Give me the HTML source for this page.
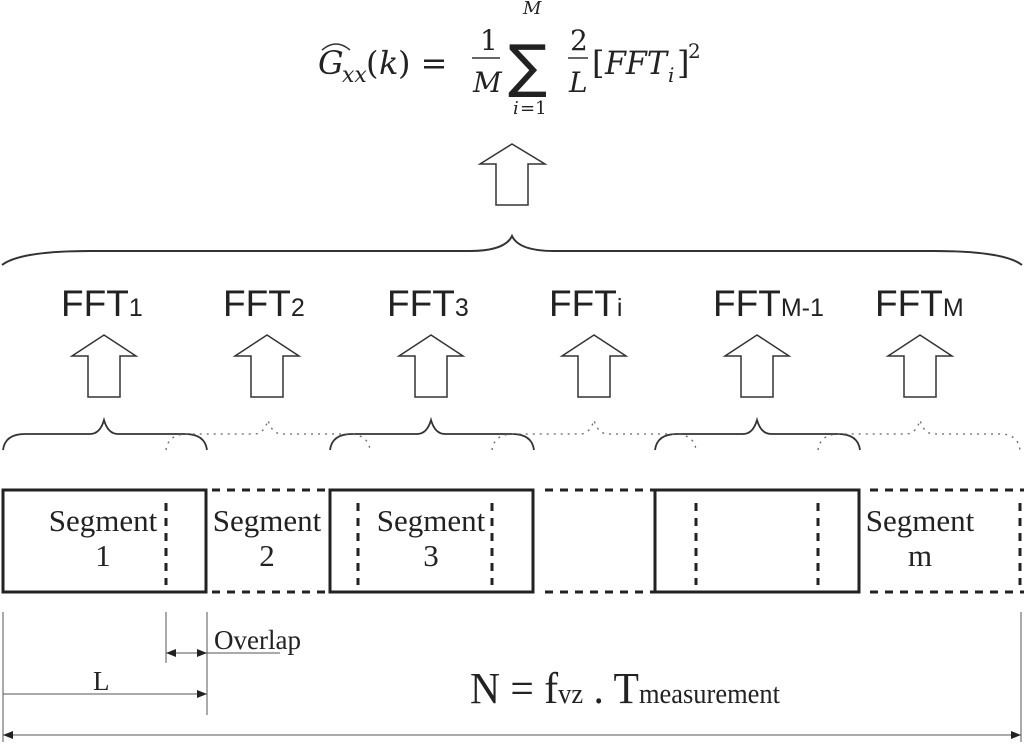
<!DOCTYPE html>
<html><head><style>
html,body{margin:0;padding:0;background:#fff;}
svg{display:block;}
.f{font-family:"Liberation Sans",Arial,sans-serif;fill:#222;}
.s{font-family:"Liberation Serif","Times New Roman",serif;fill:#222;}
</style></head><body>
<svg width="1024" height="745" viewBox="0 0 1024 745" xmlns="http://www.w3.org/2000/svg">
<defs>
<marker id="ah" markerWidth="10" markerHeight="8" refX="10" refY="4" orient="auto" markerUnits="userSpaceOnUse"><path d="M0,0 L10,4 L0,8 z" fill="#222"/></marker>
<marker id="at" markerWidth="10" markerHeight="8" refX="0" refY="4" orient="auto" markerUnits="userSpaceOnUse"><path d="M10,0 L0,4 L10,8 z" fill="#222"/></marker>
</defs>
<!-- formula -->
<g class="s" font-style="italic">
<text x="318" y="74" font-size="32" font-family="DejaVu Serif,serif" font-style="italic">G</text>
<text x="342" y="82" font-size="22" font-family="DejaVu Serif,serif">xx</text>
<text x="366" y="74" font-size="32" font-family="DejaVu Serif,serif" font-style="normal">(</text>
<text x="379" y="74" font-size="32" font-family="DejaVu Serif,serif">k</text>
<text x="398" y="74" font-size="32" font-family="DejaVu Serif,serif" font-style="normal">) =</text>
<text x="480" y="50" font-size="28" font-family="DejaVu Serif,serif" font-style="normal">1</text>
<text x="473" y="92" font-size="28" font-family="DejaVu Serif,serif">M</text>
<text x="523" y="14" font-size="18" font-family="DejaVu Serif,serif">M</text>
<text x="508" y="86" font-size="58" font-family="DejaVu Sans,serif" font-style="normal">∑</text>
<text x="513" y="114" font-size="18" font-family="DejaVu Serif,serif">i</text>
<text x="520" y="114" font-size="18" font-family="DejaVu Serif,serif" font-style="normal">=1</text>
<text x="570" y="50" font-size="28" font-family="DejaVu Serif,serif" font-style="normal">2</text>
<text x="569" y="92" font-size="28" font-family="DejaVu Serif,serif">L</text>
<text x="592" y="74" font-size="32" font-family="DejaVu Serif,serif" font-style="normal">[</text>
<text x="605" y="74" font-size="32" font-family="DejaVu Serif,serif" textLength="62" lengthAdjust="spacingAndGlyphs">FFT</text>
<text x="668" y="82" font-size="20" font-family="DejaVu Serif,serif">i</text>
<text x="677" y="74" font-size="32" font-family="DejaVu Serif,serif" font-style="normal">]</text>
<text x="688" y="58" font-size="20" font-family="DejaVu Serif,serif" font-style="normal">2</text>
</g>
<path d="M322,50 Q336,38 350,50" fill="none" stroke="#333" stroke-width="1.5"/>
<line x1="472" y1="58" x2="500" y2="58" stroke="#333" stroke-width="1.5"/>
<line x1="568" y1="58" x2="588" y2="58" stroke="#333" stroke-width="1.5"/>
<!-- top arrow -->
<path d="M512,144 L545,164 L528,164 L528,205 L496,205 L496,164 L480,164 Z" fill="#fff" stroke="#333" stroke-width="1.5"/>
<!-- big brace -->
<path d="M2,265 Q20,251 90,251 L470,251 Q505,251 512,236 Q519,251 554,251 L934,251 Q1004,251 1022,265" fill="none" stroke="#333" stroke-width="2"/>
<!-- FFT labels -->
<g class="f" font-size="37">
<text x="61" y="316">FFT<tspan font-size="25">1</tspan></text>
<text x="223" y="316">FFT<tspan font-size="25">2</tspan></text>
<text x="387" y="316">FFT<tspan font-size="25">3</tspan></text>
<text x="549" y="316">FFT<tspan font-size="25">i</tspan></text>
<text x="713" y="316">FFT<tspan font-size="25">M-1</tspan></text>
<text x="875" y="316">FFT<tspan font-size="25">M</tspan></text>
</g>
<!-- small arrows -->
<g fill="#fff" stroke="#333" stroke-width="1.5">
<path d="M104,335 L136,356 L120,356 L120,397 L88,397 L88,356 L72,356 Z"/>
<path d="M267,335 L299,356 L283,356 L283,397 L251,397 L251,356 L235,356 Z"/>
<path d="M431,335 L463,356 L447,356 L447,397 L415,397 L415,356 L399,356 Z"/>
<path d="M594,335 L626,356 L610,356 L610,397 L578,397 L578,356 L562,356 Z"/>
<path d="M757,335 L789,356 L773,356 L773,397 L741,397 L741,356 L725,356 Z"/>
<path d="M920,335 L952,356 L936,356 L936,397 L904,397 L904,356 L888,356 Z"/>
</g>
<!-- small braces -->
<g fill="none" stroke="#333" stroke-width="1.8">
<path d="M3,450 Q5,434 25,434 L90,434 Q100,434 104,420 Q108,434 118,434 L185,434 Q205,434 207,450"/>
<path d="M330,450 Q332,434 352,434 L417,434 Q427,434 431,420 Q435,434 445,434 L512,434 Q532,434 534,450"/>
<path d="M655,450 Q657,434 677,434 L743,434 Q753,434 757,420 Q761,434 771,434 L838,434 Q858,434 860,450"/>
</g>
<g fill="none" stroke="#666" stroke-width="1.3" stroke-dasharray="2,5">
<path d="M166,450 Q168,434 188,434 L254,434 Q264,434 268,420 Q272,434 282,434 L348,434 Q368,434 370,450"/>
<path d="M492,450 Q494,434 514,434 L580,434 Q590,434 594,420 Q598,434 608,434 L674,434 Q694,434 696,450"/>
<path d="M818,450 Q820,434 840,434 L906,434 Q916,434 920,420 Q924,434 934,434 L1000,434 Q1018,434 1020,450"/>
</g>
<!-- segment boxes -->
<g fill="none" stroke="#222" stroke-width="3">
<rect x="3" y="490" width="203" height="102"/>
<rect x="330" y="490" width="203" height="102"/>
<rect x="655" y="490" width="204" height="102"/>
</g>
<g stroke="#222" stroke-width="3" stroke-dasharray="8,7">
<line x1="212" y1="490" x2="328" y2="490"/><line x1="212" y1="592" x2="328" y2="592"/>
<line x1="545" y1="490" x2="655" y2="490"/><line x1="545" y1="592" x2="655" y2="592"/>
<line x1="870" y1="490" x2="1024" y2="490"/><line x1="870" y1="592" x2="1024" y2="592"/>
<line x1="166" y1="503" x2="166" y2="585"/>
<line x1="358" y1="503" x2="358" y2="585"/>
<line x1="492" y1="503" x2="492" y2="585"/>
<line x1="696" y1="503" x2="696" y2="585"/>
<line x1="818" y1="503" x2="818" y2="585"/>
<line x1="1020" y1="503" x2="1020" y2="585"/>
</g>
<g class="s" font-size="31" text-anchor="middle">
<text x="103" y="531">Segment</text><text x="103" y="566">1</text>
<text x="267" y="531">Segment</text><text x="267" y="566">2</text>
<text x="431" y="531">Segment</text><text x="431" y="566">3</text>
<text x="920" y="531">Segment</text><text x="920" y="566">m</text>
</g>
<!-- dimensions -->
<g stroke="#555" stroke-width="1">
<line x1="3" y1="612" x2="3" y2="742"/>
<line x1="166" y1="612" x2="166" y2="663"/>
<line x1="207" y1="612" x2="207" y2="715"/>
<line x1="1021" y1="612" x2="1021" y2="742"/>
<line x1="207" y1="653" x2="280" y2="653"/>
<line x1="166" y1="653" x2="207" y2="653" marker-start="url(#at)" marker-end="url(#ah)"/>
<line x1="3" y1="694" x2="207" y2="694" marker-end="url(#ah)"/>
<line x1="3" y1="735" x2="1021" y2="735" marker-start="url(#at)" marker-end="url(#ah)"/>
</g>
<text class="s" x="214" y="649" font-size="27">Overlap</text>
<text class="s" x="93" y="690" font-size="27">L</text>
<text class="s" x="470" y="703" font-size="44" textLength="310" lengthAdjust="spacingAndGlyphs">N = f<tspan font-size="28">vz</tspan> . T<tspan font-size="28">measurement</tspan></text>
</svg>
</body></html>
